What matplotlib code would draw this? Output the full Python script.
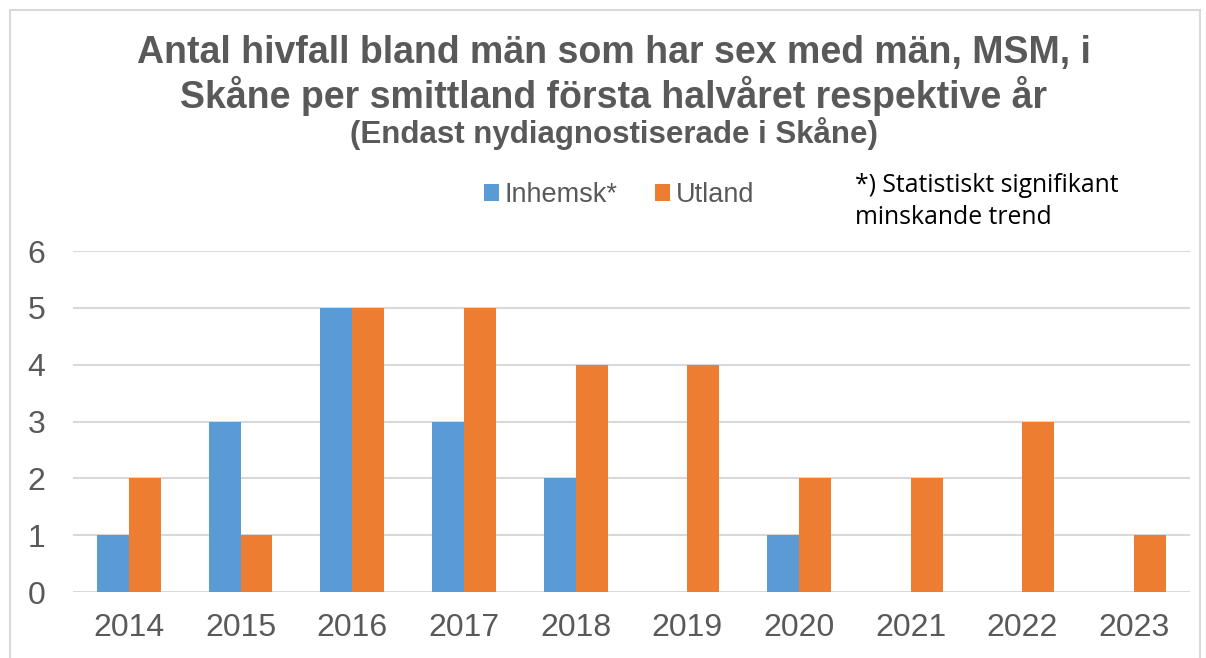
import matplotlib.pyplot as plt
import numpy as np
from matplotlib.patches import Rectangle

plt.rcParams['font.family'] = ['Liberation Sans', 'DejaVu Sans']

# Data
years = ['2014', '2015', '2016', '2017', '2018', '2019', '2020', '2021', '2022', '2023']
inhemsk = [1, 3, 5, 3, 2, 0, 1, 0, 0, 0]
utland = [2, 1, 5, 5, 4, 4, 2, 2, 3, 1]

blue = '#5B9BD5'
orange = '#ED7D31'
grey = '#595959'

fig = plt.figure(figsize=(12.06, 6.58), dpi=100)
fig.patches.append(Rectangle((10 / 1206, -0.1), 1190 / 1206, 1.1 - 10 / 658,
                             transform=fig.transFigure, fill=False,
                             edgecolor='#D9D9D9', linewidth=1.5))

ax = fig.add_axes([73 / 1206, 1 - 592 / 658, (1190 - 73) / 1206, (592 - 251) / 658])

x = np.arange(len(years))
w = 0.286
b1 = ax.bar(x - w / 2, inhemsk, w, color=blue, label='Inhemsk*', zorder=3)
b2 = ax.bar(x + w / 2, utland, w, color=orange, label='Utland', zorder=3)

ax.set_xlim(-0.5, len(years) - 0.5)
ax.set_ylim(0, 6)
ax.set_yticks(range(7))
ax.set_xticks(x)
ax.set_xticklabels(years)
ax.tick_params(axis='both', length=0, labelsize=23, labelcolor=grey)
ax.tick_params(axis='x', pad=15)
ax.tick_params(axis='y', pad=20)
ax.grid(axis='y', color='#D9D9D9', linewidth=1.5, zorder=0)
for s in ax.spines.values():
    s.set_visible(False)

# Titles
fig.text(614 / 1206, 1 - 53 / 658, 'Antal hivfall bland män som har sex med män, MSM, i',
         ha='center', va='center', fontsize=27, fontweight='bold', color=grey)
fig.text(614 / 1206, 1 - 96 / 658, 'Skåne per smittland första halvåret respektive år',
         ha='center', va='center', fontsize=27, fontweight='bold', color=grey)
fig.text(614 / 1206, 1 - 134 / 658, '(Endast nydiagnostiserade i Skåne)',
         ha='center', va='center', fontsize=22.5, fontweight='bold', color=grey)

leg = fig.legend(handles=[b1, b2], loc='center', bbox_to_anchor=(619 / 1206, 1 - 195 / 658),
                 ncol=2, frameon=False, fontsize=19.5, handlelength=0.55, handleheight=0.55,
                 handletextpad=0.2, columnspacing=1.4)
for t in leg.get_texts():
    t.set_color(grey)

fig.text(855 / 1206, 1 - 185 / 658, '*) Statistiskt signifikant', ha='left', va='center',
         fontsize=17.8, color='black', family=['Open Sans', 'DejaVu Sans'])
fig.text(855 / 1206, 1 - 217 / 658, 'minskande trend', ha='left', va='center',
         fontsize=17.8, color='black', family=['Open Sans', 'DejaVu Sans'])

fig.savefig('out.png', dpi=100)
